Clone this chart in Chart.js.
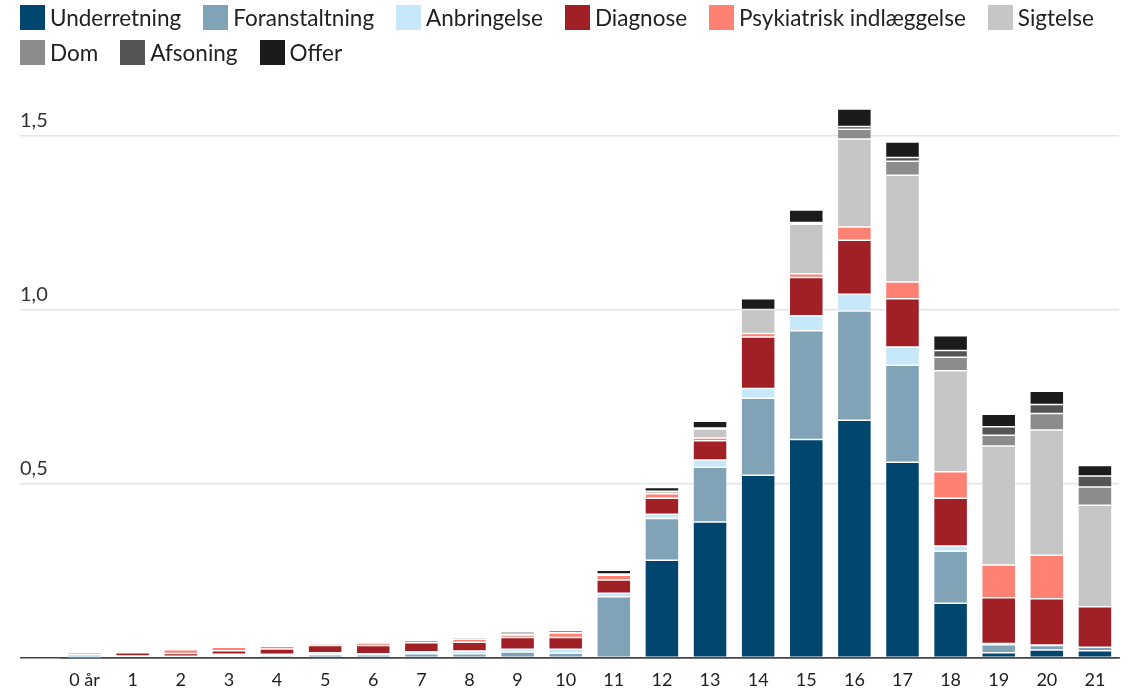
<!DOCTYPE html>
<html lang="da">
<head>
<meta charset="UTF-8">
<title>Aldersfordeling</title>
<style>
  html, body { margin: 0; padding: 0; background: #fff; }
  body { font-family: Lato, "Open Sans", sans-serif; }
  .wrap { position: relative; width: 1127px; height: 689px; }
  #legend { position: absolute; top: 5px; left: 20px; }
  .row { display: flex; white-space: nowrap; margin-bottom: 10px; }
  .item { display: flex; align-items: center; height: 25px; margin-right: 22px; font-size: 22.5px; color: #222; }
  .box { width: 25px; height: 25px; margin-right: 5px; }
</style>
</head>
<body>
<div class="wrap">
  <canvas id="chart" width="1127" height="689"></canvas>
  <div id="legend"></div>
</div>

<script src="https://cdn.jsdelivr.net/npm/chart.js"></script>
<script>
const ages = ['0 år', '1', '2', '3', '4', '5', '6', '7', '8', '9', '10', '11', '12', '13', '14', '15', '16', '17', '18', '19', '20', '21'];

const underretning   = [0, 0, 0, 0, 0, 0, 0, 0, 0, 0, 0, 0, 0.281, 0.391, 0.525, 0.628, 0.683, 0.562, 0.157, 0.015, 0.023, 0.021];
const foranstaltning = [0.001, 0.003, 0.002, 0.006, 0.007, 0.009, 0.009, 0.012, 0.012, 0.017, 0.014, 0.176, 0.120, 0.157, 0.221, 0.312, 0.314, 0.279, 0.150, 0.023, 0.013, 0.010];
const anbringelse    = [0.010, 0.003, 0.003, 0.005, 0.004, 0.006, 0.003, 0.006, 0.008, 0.008, 0.011, 0.010, 0.012, 0.021, 0.028, 0.043, 0.048, 0.052, 0.015, 0.004, 0.001, 0];
const diagnose       = [0.005, 0.009, 0.008, 0.010, 0.015, 0.021, 0.024, 0.026, 0.025, 0.034, 0.034, 0.038, 0.046, 0.055, 0.148, 0.110, 0.155, 0.139, 0.137, 0.131, 0.133, 0.116];
const psykiatrisk    = [0, 0, 0.011, 0.010, 0.008, 0.005, 0.007, 0.007, 0.009, 0.007, 0.013, 0.014, 0.013, 0.008, 0.010, 0.011, 0.038, 0.048, 0.076, 0.094, 0.125, 0];
const sigtelse       = [0, 0, 0.002, 0.002, 0.002, 0, 0.001, 0.002, 0, 0.003, 0.002, 0.003, 0.007, 0.026, 0.069, 0.142, 0.253, 0.307, 0.290, 0.342, 0.360, 0.292];
const dom            = [0, 0, 0.002, 0.002, 0.002, 0, 0, 0, 0.005, 0, 0, 0, 0, 0.002, 0, 0.002, 0.028, 0.040, 0.039, 0.031, 0.047, 0.052];
const afsoning       = [0, 0, 0, 0, 0, 0, 0, 0, 0, 0, 0, 0, 0, 0.001, 0, 0.003, 0.008, 0.011, 0.019, 0.024, 0.026, 0.032];
const offer          = [0, 0, 0, 0, 0, 0.002, 0.002, 0.004, 0, 0.006, 0.006, 0.011, 0.011, 0.019, 0.031, 0.036, 0.050, 0.044, 0.043, 0.036, 0.038, 0.030];

const series = [
  ['Underretning', underretning, '#01466f'],
  ['Foranstaltning', foranstaltning, '#80a3b8'],
  ['Anbringelse', anbringelse, '#c6e8f8'],
  ['Diagnose', diagnose, '#a02026'],
  ['Psykiatrisk indlæggelse', psykiatrisk, '#ff8174'],
  ['Sigtelse', sigtelse, '#c6c6c6'],
  ['Dom', dom, '#8c8c8c'],
  ['Afsoning', afsoning, '#555555'],
  ['Offer', offer, '#1b1b1b']
];

// legend, two rows like the original (6 + 3)
const legend = document.getElementById('legend');
[series.slice(0, 6), series.slice(6)].forEach(group => {
  const row = document.createElement('div');
  row.className = 'row';
  group.forEach(s => {
    const item = document.createElement('div');
    item.className = 'item';
    item.innerHTML = '<span class="box" style="background:' + s[2] + '"></span>' + s[0];
    row.appendChild(item);
  });
  legend.appendChild(row);
});

const isHalf = v => Math.abs(v * 2 - Math.round(v * 2)) < 1e-9;

new Chart(document.getElementById('chart'), {
  type: 'bar',
  data: {
    labels: ages,
    datasets: series.map(s => ({
      label: s[0],
      data: s[1],
      backgroundColor: s[2],
      borderColor: 'rgba(255,255,255,0.4)',
      borderWidth: 0.75,
      borderSkipped: false,
      barPercentage: 0.707,
      categoryPercentage: 1
    }))
  },
  options: {
    responsive: false,
    animation: false,
    layout: { padding: { top: 101, left: 20, right: 8, bottom: 0 } },
    plugins: { legend: { display: false }, tooltip: { enabled: false } },
    scales: {
      x: {
        stacked: true,
        z: 1,
        grid: { display: false, drawTicks: false },
        border: { display: true, color: '#444', width: 1.5 },
        afterFit: s => { s.height = 31; },
        ticks: { color: '#222', padding: 13, font: { family: 'Lato', size: 18, lineHeight: 1 } }
      },
      y: {
        stacked: true,
        min: 0,
        max: 1.6,
        afterBuildTicks: s => { s.ticks = s.ticks.filter(t => isHalf(t.value)); },
        afterFit: s => { s.width = 40.5; },
        border: { display: false },
        grid: {
          color: c => c.tick && c.tick.value === 0 ? '#444' : '#e4e4e4',
          lineWidth: 1.5,
          tickLength: 40.5
        },
        ticks: {
          stepSize: 0.5,
          crossAlign: 'far',
          labelOffset: -15,
          color: '#333',
          font: { family: 'Lato', size: 20 },
          callback: v => v === 0 ? '' : v.toFixed(1).replace('.', ',')
        }
      }
    }
  }
});
</script>
</body>
</html>
